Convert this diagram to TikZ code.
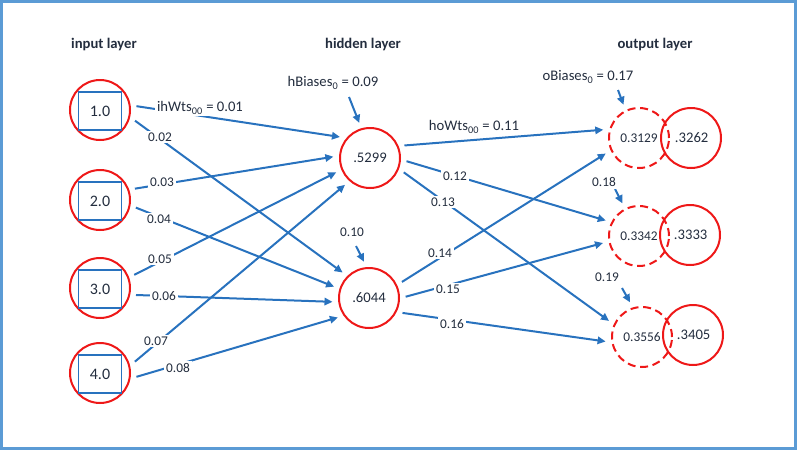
\documentclass[tikz,border=0pt]{standalone}
\usepackage{fontspec}
\setmainfont{Carlito}
\usetikzlibrary{arrows.meta}
\definecolor{netblue}{RGB}{40,114,190}
\definecolor{netred}{RGB}{238,24,24}
\definecolor{frameblue}{RGB}{91,155,213}
\definecolor{ink}{RGB}{35,45,62}

\begin{document}
\begin{tikzpicture}[
  x=0.75pt, y=-0.75pt,
  neuron/.style={circle, draw=netred, line width=1.5pt, minimum size=45pt, inner sep=0pt, outer sep=5pt, text=ink, font=\fontsize{11}{13}\selectfont},
  sumnode/.style={neuron, dash pattern=on 6pt off 3.5pt, font=\fontsize{10}{12}\selectfont},
  inbox/.style={draw=netblue, line width=1.1pt, minimum width=32pt, minimum height=28.5pt, inner sep=0pt, text=ink, font=\fontsize{12}{14}\selectfont},
  layer/.style={text=ink, font=\bfseries\fontsize{11}{13}\selectfont},
  wt/.style={fill=white, inner sep=1.5pt, text=ink, font=\fontsize{10}{12}\selectfont},
  wtbig/.style={wt, font=\fontsize{11}{13}\selectfont},
  arr/.style={-{Triangle[length=6pt,width=5.5pt]}, draw=netblue, line width=1.5pt}
]
\useasboundingbox (0,0) rectangle (797,450);
\draw[frameblue, line width=2.25pt] (1.5,1.5) rectangle (795.5,448.5);

\node[layer] (inlayer) at (104,45) {input layer};
\node[layer] (hidlayer) at (363,45) {hidden layer};
\node[layer] (outlayer) at (655,45) {output layer};

\node[neuron] (i1) at (100,110) {};
\node[neuron] (i2) at (100,200) {};
\node[neuron] (i3) at (100,288) {};
\node[neuron] (i4) at (100,373) {};
\node[inbox] (x1) at (100,111) {1.0};
\node[inbox] (x2) at (100,201) {2.0};
\node[inbox] (x3) at (100,289) {3.0};
\node[inbox] (x4) at (100,374) {4.0};

\node[neuron] (h1) at (370,158) {.5299};
\node[neuron] (h2) at (369,298) {.6044};

\node[neuron] (o1) at (691,138) {\hspace*{1pt}.3262};
\node[neuron] (o2) at (690,235) {\hspace*{1pt}.3333};
\node[neuron] (o3) at (693,335) {\hspace*{1pt}.3405};
\node[sumnode] (s1) at (639,138) {0.3129};
\node[sumnode] (s2) at (639,236) {0.3342};
\node[sumnode] (s3) at (642,337) {0.3556};

\draw[arr] (i1.6) -- (h1.145);
\draw[arr] (i1.-17) -- (h2.136);
\draw[arr] (i2.18) -- (h1.178);
\draw[arr] (i2.-12) -- (h2.162);
\draw[arr] (i3.21) -- (h1.203);
\draw[arr] (i3.-11) -- (h2.186);
\draw[arr] (i4.18) -- (h1.227);
\draw[arr] (i4.-6) -- (h2.212);

\draw[arr] (h1.20) -- (s1.167);
\draw[arr] (h1.-5) -- (s2.155);
\draw[arr] (h1.-23) -- (s3.154);
\draw[arr] (h2.26) -- (s1.205);
\draw[arr] (h2.2) -- (s2.191);
\draw[arr] (h2.-24) -- (s3.187);

\coordinate (hb1) at (349,97);
\coordinate (hb2) at (356,246);
\coordinate (ob1) at (618,90);
\coordinate (ob2) at (615,189);
\coordinate (ob3) at (622,288);
\draw[arr] (hb1) -- (h1.107);
\draw[arr] (hb2) -- (h2.98);
\draw[arr] (ob1) -- (s1.115);
\draw[arr] (ob2) -- (s2.117);
\draw[arr] (ob3) -- (s3.109);

\node[wtbig] (w00) at (200,108) {ihWts\textsubscript{00} = 0.01};
\node[wt] (w01) at (160,137) {0.02};
\node[wt] (w10) at (162,182) {0.03};
\node[wt] (w11) at (159,219) {0.04};
\node[wt] (w20) at (160,259) {0.05};
\node[wt] (w21) at (164,296) {0.06};
\node[wt] (w30) at (156,341) {0.07};
\node[wt] (w31) at (178,368) {0.08};
\node[wtbig] (hbias0) at (333,83) {hBiases\textsubscript{0} = 0.09};
\node[wt] (hbias1) at (352,232) {0.10};
\node[wtbig] (v00) at (474,127) {hoWts\textsubscript{00} = 0.11};
\node[wt] (v01) at (455,176) {0.12};
\node[wt] (v02) at (443,202) {0.13};
\node[wt] (v10) at (440,253) {0.14};
\node[wt] (v11) at (448,289) {0.15};
\node[wt] (v12) at (452,324) {0.16};
\node[wtbig] (obias0) at (588,77) {oBiases\textsubscript{0} = 0.17};
\node[wt] (obias1) at (604,182) {0.18};
\node[wt] (obias2) at (607,277) {0.19};
\end{tikzpicture}
\end{document}
